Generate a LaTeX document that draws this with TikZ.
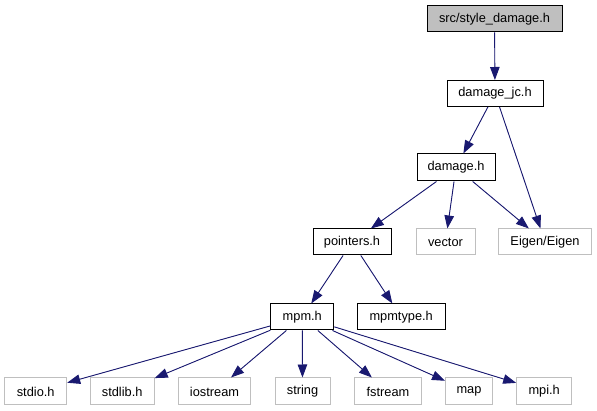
\documentclass[tikz,border=0pt]{standalone}
\usepackage{fontspec}
\setmainfont{Liberation Sans}
\usetikzlibrary{arrows.meta,positioning}
\definecolor{edgeblue}{HTML}{191970}
\definecolor{extgrey}{HTML}{BFBFBF}
\tikzset{
  incbox/.style={draw=black, fill=white, line width=1pt, inner sep=0pt, minimum height=26pt, font=\fontsize{12.8}{15}\selectfont},
  extbox/.style={incbox, draw=extgrey},
  incarrow/.style={-{Triangle[length=13pt, width=9.5pt]}, line width=0.9pt, draw=edgeblue, fill=edgeblue},
}
\begin{document}
\begin{tikzpicture}[x=1pt, y=-1pt]
    \useasboundingbox (0,0) rectangle (597,411);
    \node[incbox, fill=extgrey, minimum width=135pt] (style) at (494.5,19) {src/style\_damage.h};
    \node[incbox, minimum width=96pt] (jc) at (495,93.5) {damage\_jc.h};
    \node[incbox, minimum width=78pt, minimum height=27pt] (damage) at (456,167.5) {damage.h};
    \node[incbox, minimum width=78pt] (pointers) at (352,242) {pointers.h};
    \node[extbox, minimum width=59pt] (vector) at (445.5,242) {vector};
    \node[extbox, minimum width=93pt] (eigen) at (545,242) {Eigen/Eigen};
    \node[incbox, minimum width=63pt] (mpm) at (302.3,317) {mpm.h};
    \node[incbox, minimum width=88pt] (mpmtype) at (401.2,317) {mpmtype.h};
    % system headers
    \node[extbox, minimum width=62pt, minimum height=27pt] (stdio) at (35.7,391.5) {stdio.h};
    \node[extbox, minimum width=64pt, minimum height=27pt] (stdlib) at (122.2,391.5) {stdlib.h};
    \node[extbox, minimum width=72pt, minimum height=27pt] (iostream) at (214.5,391.5) {iostream};
    \node[extbox, minimum width=55pt, minimum height=27pt] (string) at (302.5,391.5) {string};
    \node[extbox, minimum width=67pt, minimum height=27pt] (fstream) at (388,391.5) {fstream};
    \node[extbox, minimum width=47pt, minimum height=27pt] (map) at (469,391.5) {map};
    \node[extbox, minimum width=55pt, minimum height=27pt] (mpi) at (544.2,391.5) {mpi.h};
    \draw[incarrow] (style) -- (jc);
    \draw[incarrow] (jc) -- (damage);
    \draw[incarrow] (jc) -- (eigen);
    \draw[incarrow] (damage) -- (pointers);
    \draw[incarrow] (damage) -- (vector);
    \draw[incarrow] (damage) -- (eigen);
    \draw[incarrow] (pointers) -- (mpm);
    \draw[incarrow] (pointers) -- (mpmtype);
    \foreach \hdr in {stdio,stdlib,iostream,string,fstream,map,mpi}
        \draw[incarrow] (mpm) -- (\hdr);
\end{tikzpicture}
\end{document}
